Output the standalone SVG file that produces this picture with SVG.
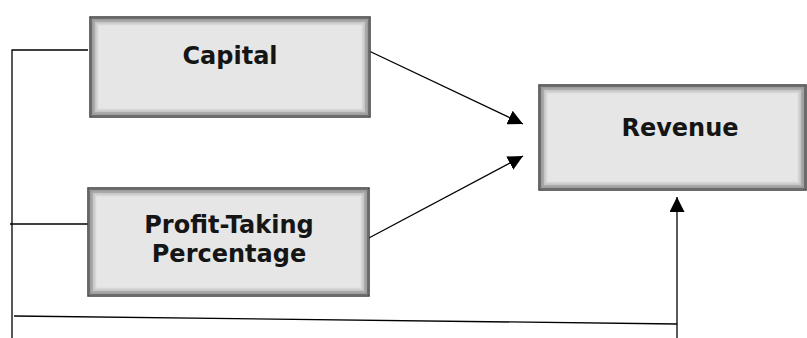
<svg xmlns="http://www.w3.org/2000/svg" width="807" height="338" viewBox="0 0 807 338">
<style>
.box{fill:#e6e6e6;stroke:#3c3c3c;stroke-width:1.5}
.b1{fill:none;stroke:#6e6e6e;stroke-width:1.5}
.b2{fill:none;stroke:#8e8e8e;stroke-width:1.5}
.b3{fill:none;stroke:#aaaaaa;stroke-width:1.5}
.b4{fill:none;stroke:#c2c2c2;stroke-width:1.5}
.b5{fill:none;stroke:#d6d6d6;stroke-width:1.5}
.lbl{font-family:"DejaVu Sans",sans-serif;font-weight:bold;font-size:24px;fill:#151515;text-anchor:middle}
.ln{fill:none;stroke:#000;stroke-width:1.3}
</style>
<defs>
<marker id="arr" viewBox="0 0 10 10" refX="10" refY="5" markerWidth="15" markerHeight="15" markerUnits="userSpaceOnUse" orient="auto">
<path d="M0,0 L10,5 L0,10 Z" fill="#000"/>
</marker>
</defs>
<g id="connectors">
<polyline class="ln" points="88,50 12,50 12,338"/>
<line class="ln" x1="10" y1="224" x2="88" y2="224"/>
<line class="ln" x1="14" y1="316" x2="677" y2="324"/>
<line class="ln" x1="677" y1="338" x2="677" y2="197" marker-end="url(#arr)"/>
<line class="ln" x1="369" y1="51" x2="523" y2="124" marker-end="url(#arr)"/>
<line class="ln" x1="367" y1="239" x2="523" y2="156" marker-end="url(#arr)"/>
</g>
<g id="capital">
<rect class="box" x="90" y="17" width="280" height="100"/>
<rect class="b1" x="91.5" y="18.5" width="277" height="97"/>
<rect class="b2" x="93" y="20" width="274" height="94"/>
<rect class="b3" x="94.5" y="21.5" width="271" height="91"/>
<rect class="b4" x="96" y="23" width="268" height="88"/>
<rect class="b5" x="97.5" y="24.5" width="265" height="85"/>
<text class="lbl" x="230" y="64">Capital</text>
</g>
<g id="profit-taking">
<rect class="box" x="88" y="188" width="281" height="108"/>
<rect class="b1" x="89.5" y="189.5" width="278" height="105"/>
<rect class="b2" x="91" y="191" width="275" height="102"/>
<rect class="b3" x="92.5" y="192.5" width="272" height="99"/>
<rect class="b4" x="94" y="194" width="269" height="96"/>
<rect class="b5" x="95.5" y="195.5" width="266" height="93"/>
<text class="lbl" x="229" y="233">Profit-Taking</text>
<text class="lbl" x="229" y="262">Percentage</text>
</g>
<g id="revenue">
<rect class="box" x="539" y="85" width="267" height="105"/>
<rect class="b1" x="540.5" y="86.5" width="264" height="102"/>
<rect class="b2" x="542" y="88" width="261" height="99"/>
<rect class="b3" x="543.5" y="89.5" width="258" height="96"/>
<rect class="b4" x="545" y="91" width="255" height="93"/>
<rect class="b5" x="546.5" y="92.5" width="252" height="90"/>
<text class="lbl" x="680" y="136">Revenue</text>
</g>
</svg>
